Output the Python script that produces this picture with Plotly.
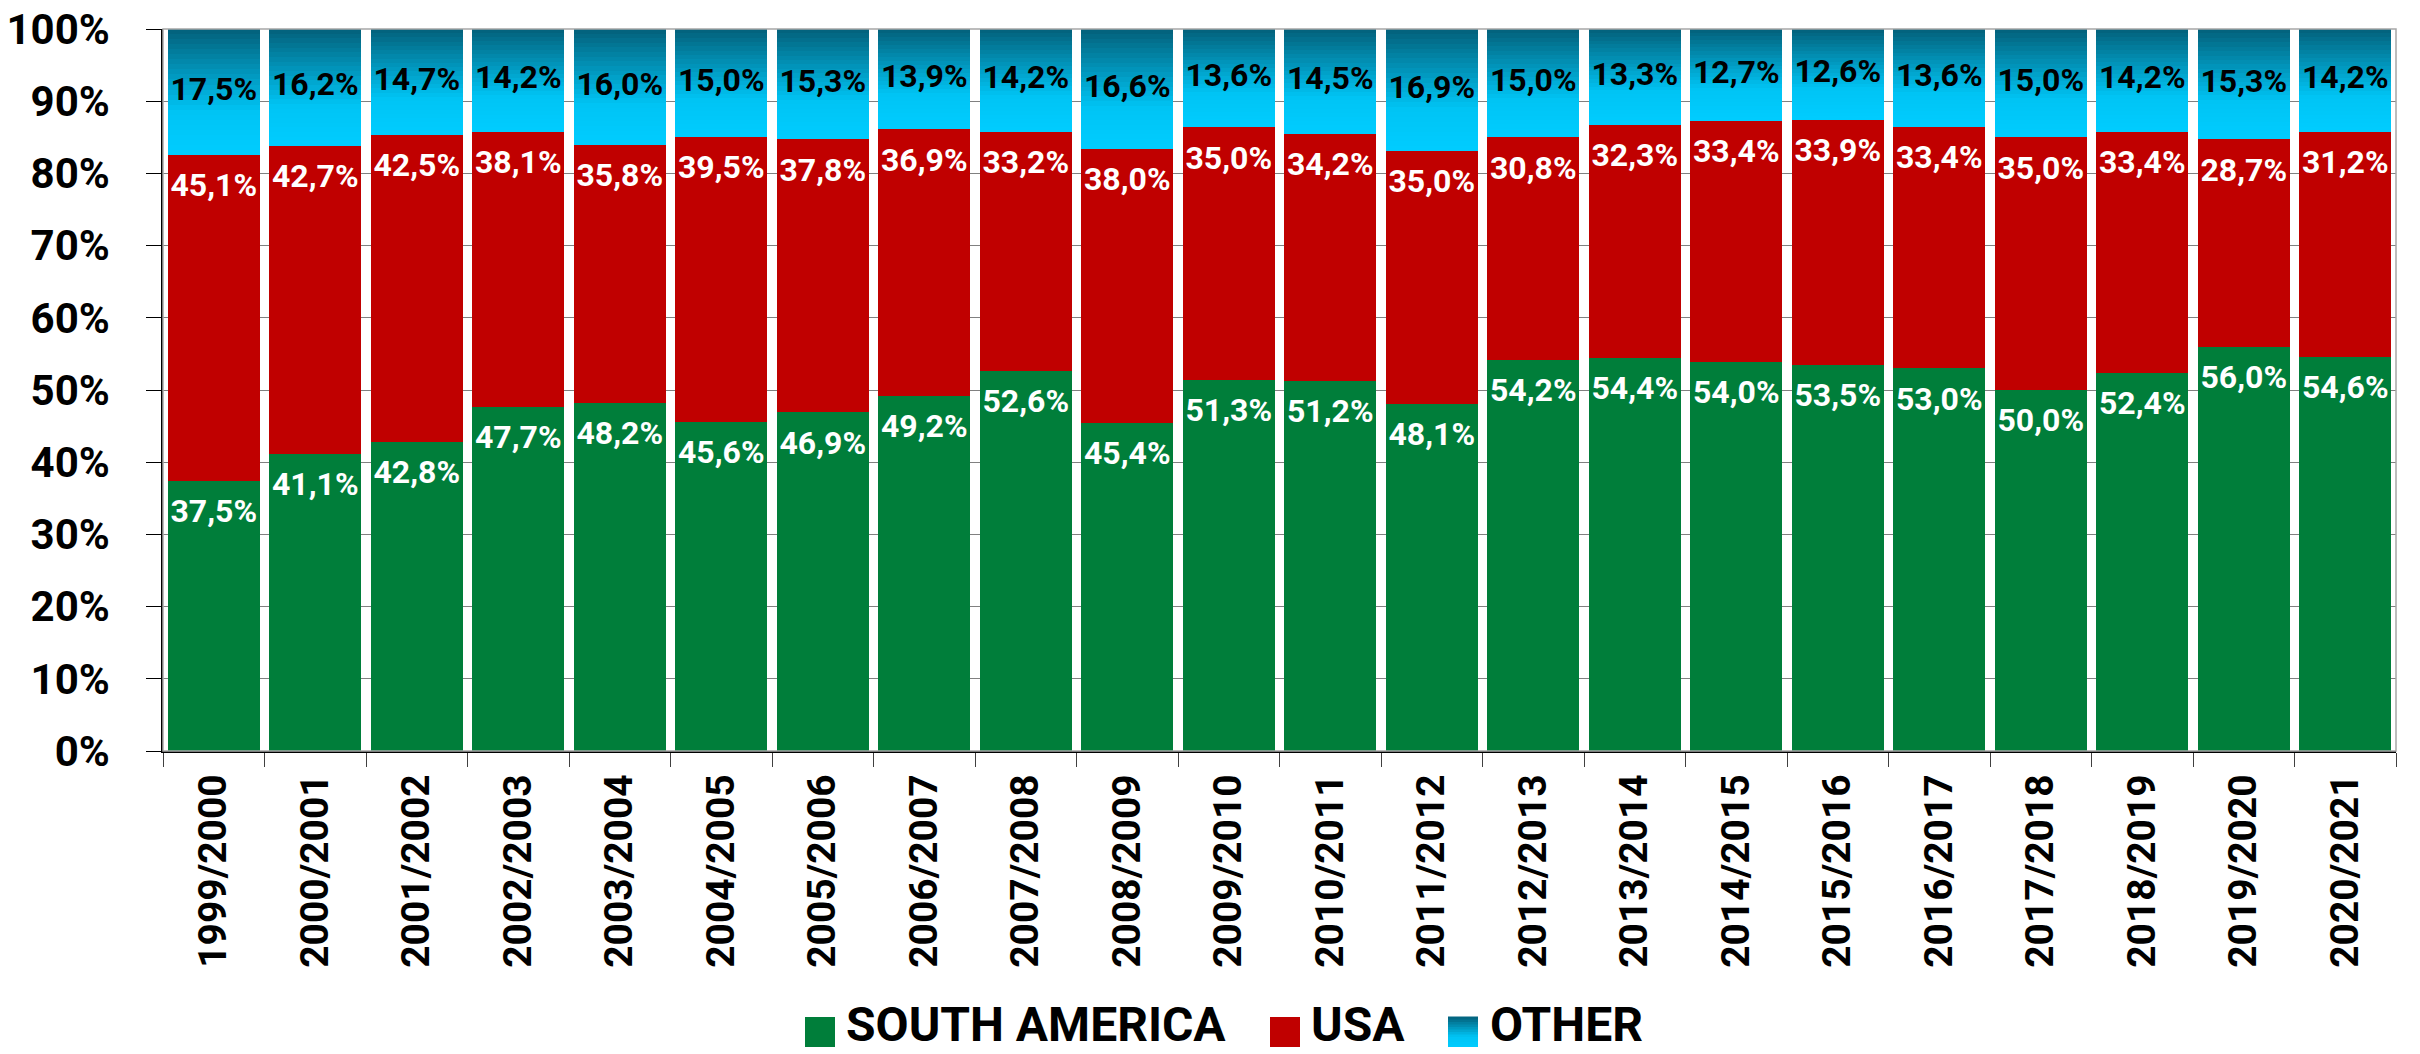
import plotly.graph_objects as go

SEASONS = ["1999/2000", "2000/2001", "2001/2002", "2002/2003", "2003/2004", "2004/2005",
           "2005/2006", "2006/2007", "2007/2008", "2008/2009", "2009/2010", "2010/2011",
           "2011/2012", "2012/2013", "2013/2014", "2014/2015", "2015/2016", "2016/2017",
           "2017/2018", "2018/2019", "2019/2020", "2020/2021"]
SOUTH_AMERICA = [37.5, 41.1, 42.8, 47.7, 48.2, 45.6, 46.9, 49.2, 52.6, 45.4, 51.3,
                 51.2, 48.1, 54.2, 54.4, 54.0, 53.5, 53.0, 50.0, 52.4, 56.0, 54.6]
USA = [45.1, 42.7, 42.5, 38.1, 35.8, 39.5, 37.8, 36.9, 33.2, 38.0, 35.0,
       34.2, 35.0, 30.8, 32.3, 33.4, 33.9, 33.4, 35.0, 33.4, 28.7, 31.2]
OTHER = [17.5, 16.2, 14.7, 14.2, 16.0, 15.0, 15.3, 13.9, 14.2, 16.6, 13.6,
         14.5, 16.9, 15.0, 13.3, 12.7, 12.6, 13.6, 15.0, 14.2, 15.3, 14.2]
SERIES_NAMES = ["SOUTH AMERICA", "USA", "OTHER"]

C = {"green": "#007E3A", "red": "#C00000", "grid": "#808080", "text": "#000000"}
# gradient for OTHER, bottom -> top
GRAD = [(0.0, (0, 204, 255)), (0.35, (0, 196, 244)), (1.0, (3, 96, 122))]
N_SLICES = 25

W, H = 2420, 1054
PL, PR, PT, PB = 163, 24, 29, 303
FONT = "Roboto, Arial, sans-serif"
LABEL_DROP = 4.6  # label centre sits this far (axis units) below a segment's top


def pct(v):
    return f"{v:.1f}%".replace(".", ",")


def grad_color(t):
    for (t0, c0), (t1, c1) in zip(GRAD, GRAD[1:]):
        if t <= t1:
            f = (t - t0) / (t1 - t0)
            return "rgb(%d,%d,%d)" % tuple(round(a + (b - a) * f) for a, b in zip(c0, c1))
    return "rgb(%d,%d,%d)" % GRAD[-1][1]


fig = go.Figure()
fig.add_bar(x=SEASONS, y=SOUTH_AMERICA, name=SERIES_NAMES[0], marker_color=C["green"])
fig.add_bar(x=SEASONS, y=USA, name=SERIES_NAMES[1], marker_color=C["red"])

# OTHER drawn as stacked slices to imitate the vertical gradient fill
for i in range(N_SLICES):
    fig.add_bar(x=SEASONS, y=[v / N_SLICES for v in OTHER], name=SERIES_NAMES[2],
                marker_color=grad_color((i + 0.5) / N_SLICES),
                hoverinfo="skip" if i else None, legendgroup="other")
fig.update_traces(marker_line_width=0, selector=dict(type="bar"))

# value labels (bars are normalised to 100 %)
totals = [a + b + c for a, b, c in zip(SOUTH_AMERICA, USA, OTHER)]
sa_top = [a / t * 100 for a, t in zip(SOUTH_AMERICA, totals)]
usa_top = [(a + b) / t * 100 for a, b, t in zip(SOUTH_AMERICA, USA, totals)]
oth_mid = [(a + b + c / 2) / t * 100 for a, b, c, t in zip(SOUTH_AMERICA, USA, OTHER, totals)]

label_font = dict(family=FONT, size=32, weight="bold")
fig.add_scatter(x=SEASONS, y=[v - LABEL_DROP for v in sa_top], mode="text",
                text=[pct(v) for v in SOUTH_AMERICA], hoverinfo="skip",
                textfont=dict(label_font, color="white"))
fig.add_scatter(x=SEASONS, y=[v - LABEL_DROP for v in usa_top], mode="text",
                text=[pct(v) for v in USA], hoverinfo="skip",
                textfont=dict(label_font, color="white"))
fig.add_scatter(x=SEASONS, y=oth_mid, mode="text",
                text=[pct(v) for v in OTHER], hoverinfo="skip",
                textfont=dict(label_font, color="black"))


# manual legend (large square swatches)
def px_x(p):
    return (p - PL) / (W - PL - PR)


def px_y(p):
    return (H - PB - p) / (H - PT - PB)


shapes = []
annotations = []
legend_items = [(805, 845, SERIES_NAMES[0], C["green"]),
                (1270, 1310, SERIES_NAMES[1], C["red"]),
                (1448, 1489, SERIES_NAMES[2], None)]
sq_top, sq_bot = 1017, 1047
for x0, tx, name, col in legend_items:
    if col:
        shapes.append(dict(type="rect", xref="paper", yref="paper",
                           x0=px_x(x0), x1=px_x(x0 + 30), y0=px_y(sq_bot), y1=px_y(sq_top),
                           fillcolor=col, line_width=0, layer="above"))
    else:
        n = 12
        for k in range(n):
            b = sq_bot - k * (sq_bot - sq_top) / n
            t = sq_bot - (k + 1) * (sq_bot - sq_top) / n
            shapes.append(dict(type="rect", xref="paper", yref="paper",
                               x0=px_x(x0), x1=px_x(x0 + 30), y0=px_y(b), y1=px_y(t - 0.5),
                               fillcolor=grad_color((k + 0.5) / n), line_width=0, layer="above"))
    annotations.append(dict(text=name, xref="paper", yref="paper", x=px_x(tx),
                            y=px_y(1024), xanchor="left", yanchor="middle", showarrow=False,
                            borderpad=0,
                            font=dict(family=FONT, size=48, color="black", weight="bold")))

# grey frame on top/right
shapes.append(dict(type="rect", xref="paper", yref="paper", x0=0, x1=1, y0=0, y1=1,
                   line=dict(color="#A6A6A6", width=1.5), layer="above"))

fig.update_layout(
    width=W, height=H,
    barmode="stack", barnorm="percent", bargap=0.09,
    showlegend=False,
    paper_bgcolor="white", plot_bgcolor="white",
    margin=dict(l=PL, r=PR, t=PT, b=PB, autoexpand=False),
    font=dict(family=FONT, color=C["text"]),
    shapes=shapes, annotations=annotations,
    xaxis=dict(range=[-0.5, len(SEASONS) - 0.5], automargin=False,
               tickangle=-90, tickson="boundaries", ticks="outside", ticklen=14,
               tickcolor="#404040", showline=True, linecolor="black", linewidth=1.5,
               tickfont=dict(family=FONT, size=39, weight="bold", color="black"),
               ticklabelstandoff=6, showgrid=False),
    yaxis=dict(range=[0, 100], dtick=10, ticksuffix="%", automargin=False,
               ticks="outside", ticklen=15,
               tickcolor="black", showline=True, linecolor="black", linewidth=1.5,
               gridcolor=C["grid"], gridwidth=1.2, zeroline=False,
               tickfont=dict(family=FONT, size=42, weight="bold", color="black"),
               ticklabelstandoff=28),
)

# the page's default 8px body margin would push the figure off the bottom edge
fig.write_html("out.html", config={"displayModeBar": False},
               post_script="document.body.style.margin='0px';")
